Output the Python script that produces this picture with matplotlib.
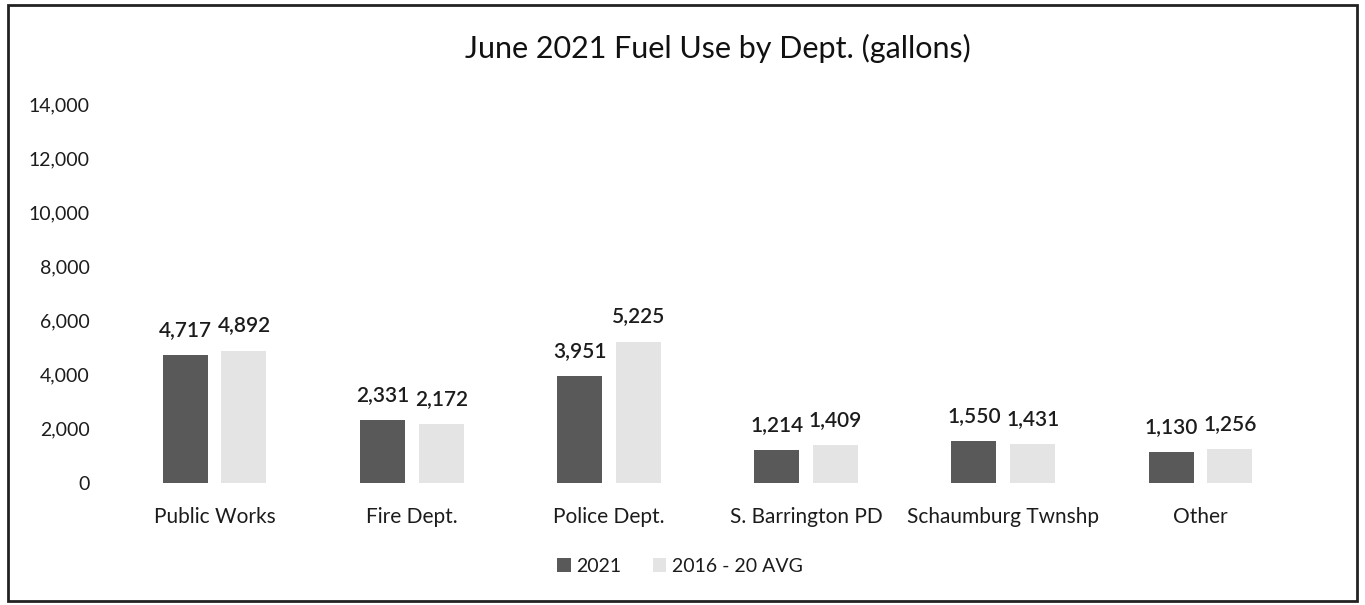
import matplotlib
matplotlib.use("Agg")
import matplotlib.pyplot as plt
import numpy as np
from matplotlib.patches import Rectangle

categories = ["Public Works", "Fire Dept.", "Police Dept.", "S. Barrington PD", "Schaumburg Twnshp", "Other"]
vals_2021 = [4717, 2331, 3951, 1214, 1550, 1130]
vals_avg = [4892, 2172, 5225, 1409, 1431, 1256]
series_names = ["2021", "2016 - 20 AVG"]
yticks = [0, 2000, 4000, 6000, 8000, 10000, 12000, 14000]

plt.rcParams['font.family'] = ['Lato', 'DejaVu Sans']
txt = "#1c1c1c"

fig = plt.figure(figsize=(13.65, 6.05), dpi=100)
W, H = 1365, 605
ax = fig.add_axes([116 / W, 1 - 483 / H, (1299 - 116) / W, (483 - 104) / H])

x = np.arange(len(categories))
bw = 0.228
gap = 0.035
c_dark = "#595959"
c_light = "#e4e4e4"
b1 = ax.bar(x - bw / 2 - gap, vals_2021, bw, color=c_dark, label=series_names[0])
b2 = ax.bar(x + bw / 2 + gap, vals_avg, bw, color=c_light, label=series_names[1])

for bars, vals in ((b1, vals_2021), (b2, vals_avg)):
    for r, v in zip(bars, vals):
        ax.annotate(f"{v:,}", (r.get_x() + r.get_width() / 2, v), xytext=(0, 11),
                    textcoords="offset points", ha="center", va="bottom",
                    fontsize=15, fontweight="semibold", color=txt)

ax.set_xlim(-0.5, len(categories) - 0.5)
ax.set_ylim(0, 14000)
ax.set_yticks(yticks)
ax.set_yticklabels([f"{t:,}" for t in yticks], fontsize=14, color=txt)
ax.set_xticks(x)
ax.set_xticklabels(categories, fontsize=15, color=txt)
ax.tick_params(axis="both", length=0)
ax.tick_params(axis="y", pad=19)
ax.tick_params(axis="x", pad=17)
for s in ax.spines.values():
    s.set_visible(False)

fig.text(0.5 * (465 + 970) / W, 1 - 48 / H, "June 2021 Fuel Use by Dept. (gallons)",
         ha="center", va="center", fontsize=22, color="#111111")

fig.legend(handles=[b1, b2], labels=series_names, loc="center", bbox_to_anchor=(680 / W, 1 - 566 / H),
           ncol=2, frameon=False, fontsize=14, handlelength=0.7, handleheight=0.7,
           handletextpad=0.3, columnspacing=1.6, labelcolor=txt)

fig.add_artist(Rectangle((8 / W, 4 / H), (1357 - 8) / W, (600 - 4) / H, transform=fig.transFigure,
                         fill=False, edgecolor="#222222", linewidth=2))

fig.savefig("out.png", dpi=100)
